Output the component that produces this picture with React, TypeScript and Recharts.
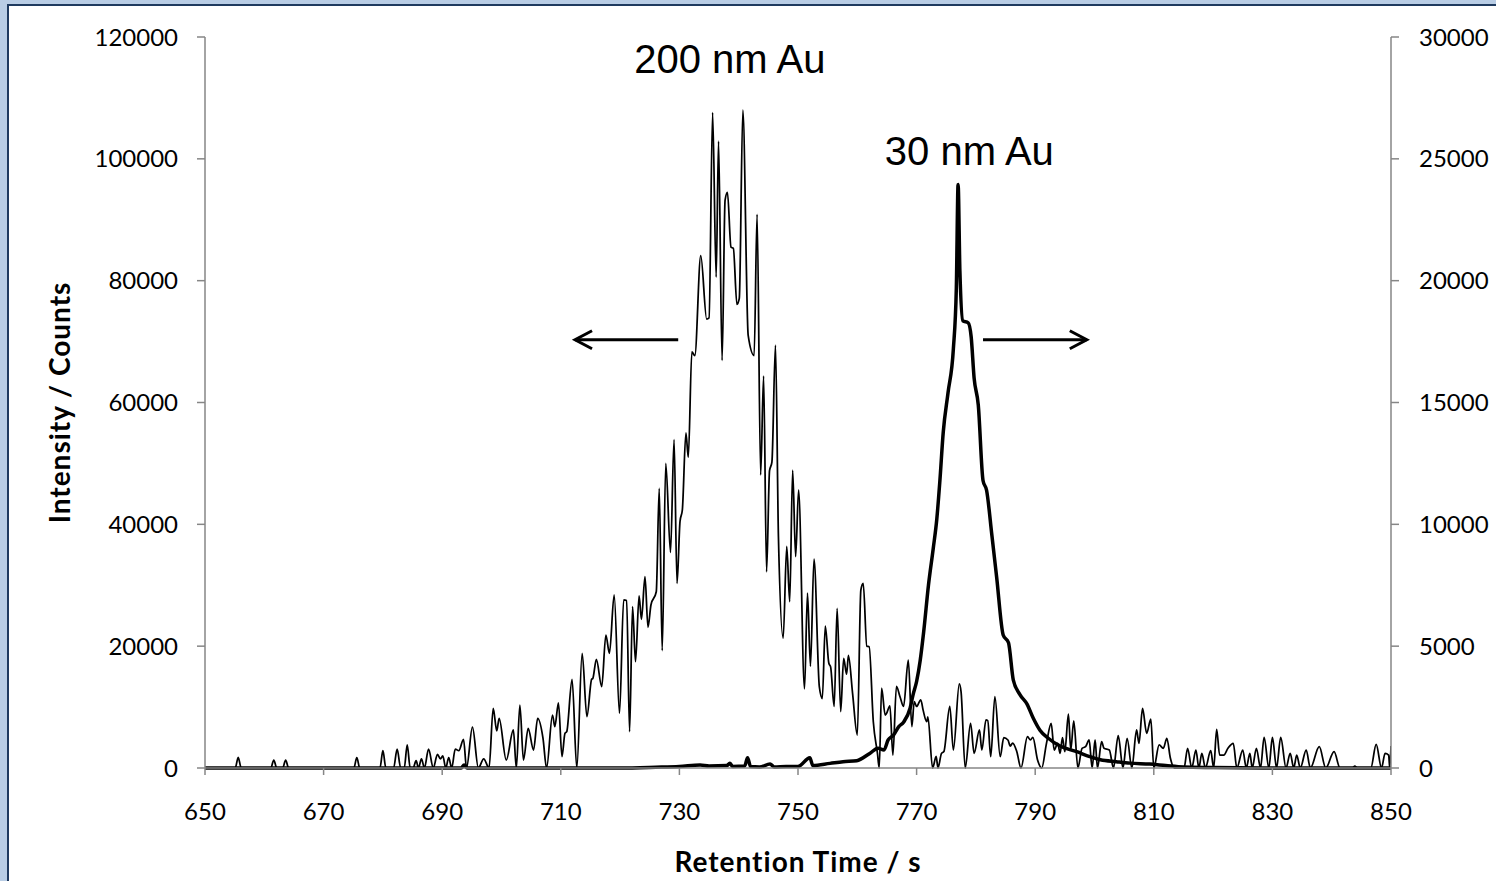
import { LineChart, Line, XAxis, YAxis, ReferenceLine, ReferenceDot } from 'recharts';

const xTicks = [650, 670, 690, 710, 730, 750, 770, 790, 810, 830, 850];
const leftTicks = [0, 20000, 40000, 60000, 80000, 100000, 120000];
const rightTicks = [0, 5000, 10000, 15000, 20000, 25000, 30000];

// 200 nm Au, left axis: [retention time s, counts]
const au200Raw: [number, number][] = [
  [650, 0], [655.1, 0], [655.6, 1750], [656.1, 0],
  [661.1, 0], [661.6, 1300], [662.1, 0], [663.1, 0], [663.6, 1300], [664.1, 0],
  [675.1, 0], [675.6, 1700], [676.1, 0],
  [679.5, 0], [680, 2850], [680.5, 0], [681.8, 0], [682.4, 3100], [683, 0],
  [683.6, 0], [684.1, 3800], [684.6, 0], [685.1, 0], [685.6, 1200], [686, 0], [686.5, 1500], [687, 0],
  [687.7, 3100], [688.5, 0], [689.2, 2250], [689.7, 1500], [690.1, 2000], [690.6, 0],
  [691.1, 1700], [691.6, 0], [692.2, 3100], [692.8, 2850], [693.6, 4700], [694.1, 0],
  [695.1, 6700], [696.1, 0], [697, 1500], [697.9, 0],
  [698.6, 9800], [699.2, 6100], [699.6, 8150], [700.8, 1300], [702, 6240], [702.5, 0],
  [703.1, 10340], [703.7, 1300], [704.5, 6500], [705.4, 2950], [706.1, 8150], [707, 4870], [707.6, 0],
  [708.6, 8700], [709, 6800], [709.6, 10700], [710.2, 1860], [710.7, 5690], [711, 5960],
  [711.9, 14560], [712.7, 0], [713.6, 18820], [714.4, 8430], [715.2, 14560], [715.4, 14700],
  [716, 17840], [716.9, 13350], [717.6, 21830], [718.2, 18820], [719, 28400], [719.9, 8970],
  [720.6, 27580], [721.1, 27500], [721.6, 5960], [722.1, 26480], [722.6, 17450], [723.2, 28240],
  [723.6, 24400], [724.2, 31400], [724.7, 23100], [725.2, 26760], [726.1, 28940], [726.6, 45900],
  [727.1, 19260], [727.7, 50000], [728.5, 35400], [729.1, 53900], [729.6, 30300], [730.1, 40450],
  [730.5, 42400], [731.1, 55000], [731.5, 51000], [732.1, 68300], [732.6, 67700], [733.6, 84100],
  [734.6, 73700], [735, 73900], [735.6, 107600], [736.2, 80600], [736.6, 102900], [737.2, 66900],
  [737.7, 93200], [738.1, 94500], [738.7, 85500], [739.1, 85300], [739.7, 76100], [740.1, 77100],
  [740.7, 108000], [741.6, 71000], [742.6, 67700], [743.1, 90900], [743.7, 48100], [744.2, 64350],
  [744.7, 32200], [745.2, 48800], [745.6, 50200], [746.2, 69400], [746.7, 38000], [747.5, 21300],
  [748.1, 36400], [748.6, 27300], [749.1, 48900], [749.6, 34700], [750.1, 45600], [751.1, 13000],
  [751.6, 28700], [752.1, 16700], [752.7, 34300], [753.6, 13300], [754.1, 11400], [754.6, 23300],
  [755.2, 17200], [755.5, 16600], [756.1, 10100], [756.6, 26200], [757.2, 9250], [757.7, 18000],
  [758.2, 15400], [758.5, 18500], [759.2, 12300], [760, 5400], [760.6, 29200], [761, 30300],
  [761.6, 20000], [762, 19900], [762.7, 7600], [763.4, 2400], [763.7, 0], [764.1, 13100],
  [764.7, 8700], [764.9, 8900], [765.5, 10200], [766, 2100], [766.6, 13400], [767.2, 11700],
  [767.8, 10100], [768.6, 17700], [769.2, 6800], [769.6, 10900], [770, 10100], [770.7, 11200],
  [771.1, 9500], [771.7, 7600], [771.9, 8400], [772.7, 0], [773.3, 1900], [773.6, 0],
  [774.2, 2400], [774.6, 2700], [775.6, 10100], [776.2, 2950], [777.2, 13800], [777.5, 12500],
  [778.2, 0], [779.1, 7330], [779.7, 2410], [780.6, 6240], [781, 2950], [781.7, 7880], [782, 7770],
  [782.5, 1860], [783.2, 11710], [784.1, 1860], [784.7, 4980], [785.4, 4600], [785.8, 3610],
  [786.2, 4100], [786.9, 2680], [787.6, 0], [788.7, 5140], [789.2, 4600], [789.6, 5040],
  [790.4, 1310], [791.1, 0], [791.9, 4050], [792.7, 7330], [793.2, 2950], [793.8, 4050],
  [794.2, 2410], [794.6, 4980], [795, 2680], [795.6, 8860], [796, 2950], [796.5, 7720], [797.2, 0],
  [797.9, 3230], [798.5, 3500], [799.1, 4600], [799.6, 0], [800.1, 4600], [800.5, 0],
  [801.2, 4320], [801.6, 3230], [802.5, 2950], [803.2, 0], [804, 5310], [804.8, 0], [805.5, 4870],
  [806.3, 0], [807.1, 6240], [807.5, 4050], [808.1, 9790], [808.8, 5690], [809.5, 8040], [810, 0],
  [810.9, 3780], [811.6, 3230], [812.2, 4870], [812.8, 1590], [813.5, 0], [815.1, 0], [815.7, 3230],
  [816.4, 0], [817.1, 2950], [817.6, 0], [818.1, 2410], [818.7, 0], [819.6, 2850], [820.1, 0],
  [820.6, 6350], [821.1, 2130], [821.8, 2130], [822.5, 3230], [823.4, 4050], [824, 0], [825, 2950],
  [825.6, 0], [826.2, 2410], [826.6, 0], [827.3, 3230], [828, 0], [828.6, 5040], [829.4, 0],
  [830, 5040], [830.7, 0], [831.4, 5040], [832.3, 0], [833, 2410], [833.6, 0], [834.1, 2130],
  [834.7, 0], [835.7, 2950], [836.4, 0], [837.9, 3500], [839, 0], [840.4, 2680], [841.4, 0],
  [843.5, 0], [843.9, 300], [844.3, 0], [846.6, 0], [847.5, 3890], [848.4, 0], [849, 2410],
  [849.6, 2130], [849.8, 0], [850, 3600],
];

// 30 nm Au, right axis: [retention time s, counts]
const au30Raw: [number, number][] = [
  [650, 0], [693.2, 0], [693.7, 120], [694.2, 0], [720, 0], [726, 30], [730, 60], [733.5, 120],
  [735, 80], [738, 100], [738.5, 190], [739, 60], [741, 80], [741.5, 420], [742, 60], [743.5, 40],
  [745.3, 160], [746, 40], [748, 60], [750, 60], [752, 420], [752.5, 100], [755.4, 190],
  [757.6, 260], [759.9, 300], [762.1, 600], [763.5, 810], [764.5, 740], [765.2, 1150],
  [766.1, 1350], [767, 1700], [767.8, 1880], [768.9, 2450], [769.4, 3000], [770, 3550],
  [770.6, 4400], [771.2, 5600], [772, 7500], [772.8, 9000], [773.4, 10200], [773.9, 11700],
  [774.5, 13800], [775.3, 15400], [776.2, 17200], [776.7, 19700], [777, 23950], [777.3, 20400],
  [777.8, 18350], [778.7, 18270], [779.2, 17700], [779.7, 16000], [780.4, 14900], [781.2, 11800],
  [781.8, 11400], [782.7, 9540], [783.5, 7830], [784.6, 5460], [785.5, 5140], [786.3, 3620],
  [787.4, 3020], [788.6, 2630], [789.7, 2030], [790.8, 1550], [792.2, 1220], [794.2, 900],
  [797, 670], [799.2, 470], [801, 340], [803.7, 260], [806, 200], [809.3, 160], [812, 100],
  [815, 40], [820, 20], [830, 0], [850, 0],
];

const au200 = au200Raw.map(([t, v]) => ({ t, v }));
const au30 = au30Raw.map(([t, v]) => ({ t, v }));

const tickFont = { fontSize: 24, fill: '#000', fontFamily: 'Lato' };
const titleFont = { fontSize: 28, fontWeight: 700, fontFamily: 'Lato', fill: '#000', letterSpacing: 1 };

function Arrow(props: any) {
  const { x1, y1, x2, y2 } = props;
  const dir = x2 > x1 ? 1 : -1;
  return (
    <g>
      <line x1={x1} y1={y1} x2={x2} y2={y2} stroke="#000" strokeWidth={3} />
      <polyline
        points={`${x2 - dir * 17},${y2 - 9} ${x2},${y2} ${x2 - dir * 17},${y2 + 9}`}
        fill="none"
        stroke="#000"
        strokeWidth={3}
      />
    </g>
  );
}

export default function App() {
  return (
    <div style={{ position: 'absolute', left: 0, top: 0, width: 1496, height: 881, overflow: 'hidden', background: '#B9CDE5' }}>
      <div
        style={{
          position: 'absolute', left: 7, top: 4, width: 1500, height: 890, background: '#fff',
          borderLeft: '2px solid #1F3A5F', borderTop: '2px solid #1F3A5F',
        }}
      />
      <div style={{ position: 'absolute', left: 0, top: 0 }}>
        <LineChart width={1496} height={881} margin={{ top: 37, right: 0, bottom: 0, left: 0 }}>
          <XAxis
            type="number"
            dataKey="t"
            domain={[650, 850]}
            ticks={xTicks}
            allowDataOverflow
            height={113}
            tick={tickFont}
            tickSize={7}
            tickMargin={28}
            axisLine={{ stroke: '#868686', strokeWidth: 1.5 }}
            tickLine={{ stroke: '#868686', strokeWidth: 1.5 }}
            label={{ value: 'Retention Time / s', position: 'insideBottom', offset: 9, style: titleFont }}
          />
          <YAxis
            yAxisId="left"
            domain={[0, 120000]}
            ticks={leftTicks}
            width={205}
            tick={tickFont}
            tickSize={8}
            tickMargin={19}
            axisLine={{ stroke: '#868686', strokeWidth: 1.5 }}
            tickLine={{ stroke: '#868686', strokeWidth: 1.5 }}
            label={{
              value: 'Intensity / Counts', angle: -90, position: 'insideLeft', offset: 60,
              style: { ...titleFont, textAnchor: 'middle' },
            }}
          />
          <YAxis
            yAxisId="right"
            orientation="right"
            domain={[0, 30000]}
            ticks={rightTicks}
            width={105}
            tick={tickFont}
            tickSize={8}
            tickMargin={20}
            axisLine={{ stroke: '#868686', strokeWidth: 1.5 }}
            tickLine={{ stroke: '#868686', strokeWidth: 1.5 }}
          />
          <Line
            yAxisId="left"
            data={au200}
            dataKey="v"
            type="monotone"
            stroke="#000"
            strokeWidth={1.75}
            dot={false}
            isAnimationActive={false}
          />
          <Line
            yAxisId="right"
            data={au30}
            dataKey="v"
            type="monotone"
            stroke="#000"
            strokeWidth={3.5}
            dot={false}
            isAnimationActive={false}
          />
          <ReferenceLine
            yAxisId="left"
            segment={[{ x: 729.8, y: 70300 }, { x: 712.4, y: 70300 }]}
            shape={Arrow}
            ifOverflow="visible"
          />
          <ReferenceLine
            yAxisId="left"
            segment={[{ x: 781.2, y: 70300 }, { x: 798.7, y: 70300 }]}
            shape={Arrow}
            ifOverflow="visible"
          />
          <ReferenceDot
            yAxisId="left"
            x={738.5}
            y={116400}
            r={0}
            fill="none"
            stroke="none"
            ifOverflow="visible"
            label={{ value: '200 nm Au', position: 'center', fontSize: 40, fontFamily: 'Liberation Sans', fill: '#000' }}
          />
          <ReferenceDot
            yAxisId="left"
            x={778.9}
            y={101300}
            r={0}
            fill="none"
            stroke="none"
            ifOverflow="visible"
            label={{ value: '30 nm Au', position: 'center', fontSize: 40, fontFamily: 'Liberation Sans', fill: '#000' }}
          />
        </LineChart>
      </div>
    </div>
  );
}
